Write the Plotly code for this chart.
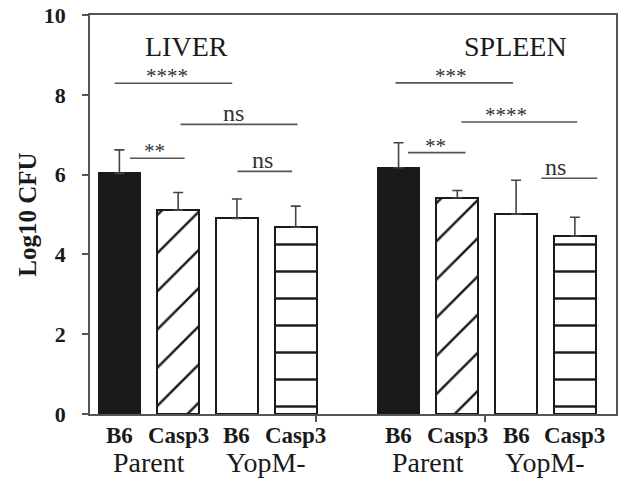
import plotly.graph_objects as go

# ---- data ----
organs = ["LIVER", "SPLEEN"]
strains = ["B6", "Casp3", "B6", "Casp3"]
groups = ["Parent", "YopM-"]
liver_mean = [6.03, 5.11, 4.90, 4.68]
liver_err = [0.59, 0.44, 0.49, 0.53]
spleen_mean = [6.17, 5.42, 5.01, 4.46]
spleen_err = [0.63, 0.18, 0.85, 0.47]

# significance comparisons: (x0, x1, y, label, label_x)
comparisons = [
    (-0.08, 1.92, 8.29, "****", 0.81),
    (1.04, 3.03, 7.26, "ns", 1.94),
    (0.18, 1.11, 6.41, "**", 0.59),
    (2.01, 2.94, 6.08, "ns", 2.43),
    (4.70, 6.70, 8.30, "***", 5.64),
    (5.82, 7.79, 7.32, "****", 6.58),
    (4.91, 5.89, 6.55, "**", 5.38),
    (7.18, 8.13, 5.91, "ns", 7.42),
]
organ_title_x = [1.14, 6.74]
organ_title_y = 9.2

# ---- layout helpers ----
organ_offset = [0.0, 4.75]
serif = "Liberation Serif"
fills = ["#1a1a1a", "white", "white", "white"]
patterns = ["", "/", "", "-"]

fig = go.Figure()
means = [liver_mean, spleen_mean]
errs = [liver_err, spleen_err]
for i in range(4):
    xs = [organ_offset[k] + i for k in range(2)]
    ys = [means[k][i] for k in range(2)]
    es = [errs[k][i] for k in range(2)]
    fig.add_trace(go.Bar(
        x=xs, y=ys, width=0.71,
        marker=dict(color=fills[i], line=dict(color="#1a1a1a", width=2),
                    pattern=dict(shape=patterns[i], fgcolor="#1a1a1a", bgcolor=fills[i],
                                 size=27, solidity=0.09, fillmode="replace")),
        error_y=dict(type="data", symmetric=False, array=es, arrayminus=[0, 0],
                     width=5, thickness=1.6, color="#444"),
        showlegend=False, hoverinfo="skip",
    ))

annotations = []
shapes = []
for (x0, x1, y, lab, lx) in comparisons:
    shapes.append(dict(type="line", xref="x", yref="y", x0=x0, x1=x1, y0=y, y1=y,
                       line=dict(color="#555", width=1.6)))
    star = "*" in lab
    annotations.append(dict(x=lx, y=y, xref="x", yref="y", text=lab, showarrow=False,
                            xanchor="center", yanchor="bottom",
                            yshift=-7 if star else -4,
                            font=dict(family=serif, size=21 if star else 24, color="#333")))

for k in range(2):
    for i in range(4):
        annotations.append(dict(x=organ_offset[k] + i, y=0, xref="x", yref="paper",
                                text="<b>%s</b>" % strains[i], showarrow=False,
                                xanchor="center", yanchor="middle", yshift=-21,
                                font=dict(family=serif, size=23, color="#1a1a1a")))
    for g in range(2):
        annotations.append(dict(x=organ_offset[k] + 2 * g + 0.5, y=0, xref="x", yref="paper",
                                text=groups[g], showarrow=False,
                                xanchor="center", yanchor="middle", yshift=-48,
                                font=dict(family=serif, size=28, color="#1a1a1a")))
    annotations.append(dict(x=organ_title_x[k], y=organ_title_y, xref="x", yref="y",
                            text=organs[k], showarrow=False, xanchor="center", yanchor="middle",
                            font=dict(family=serif, size=28, color="#1a1a1a")))

annotations.append(dict(x=-63 / 528, y=0.5, xref="paper", yref="paper",
                        text="<b>Log10 CFU</b>", textangle=-90, showarrow=False,
                        xanchor="center", yanchor="middle",
                        font=dict(family=serif, size=25, color="#1a1a1a")))

fig.update_layout(
    width=621, height=480,
    margin=dict(l=90, r=3, t=15, b=66),
    paper_bgcolor="white", plot_bgcolor="white",
    bargap=0, barmode="overlay",
    shapes=shapes, annotations=annotations,
    xaxis=dict(range=[-0.5, 8.45], showgrid=False, zeroline=False,
               showline=True, linecolor="#555", linewidth=1.6, mirror=True,
               tickvals=[3.35, 6.22], ticktext=["", ""], ticks="outside",
               ticklen=6, tickwidth=1.5, tickcolor="#555"),
    yaxis=dict(range=[0, 10], showgrid=False, zeroline=False,
               showline=True, linecolor="#555", linewidth=1.6, mirror=True,
               tickvals=[0, 2, 4, 6, 8, 10], ticks="outside", ticklen=6,
               tickwidth=1.5, tickcolor="#555", ticklabelstandoff=12,
               tickfont=dict(family=serif, size=22, color="#1a1a1a", weight="bold")),
)

fig.write_html("out.html", config={"displayModeBar": False},
               post_script="document.body.style.margin='0';document.body.style.overflow='hidden';")
